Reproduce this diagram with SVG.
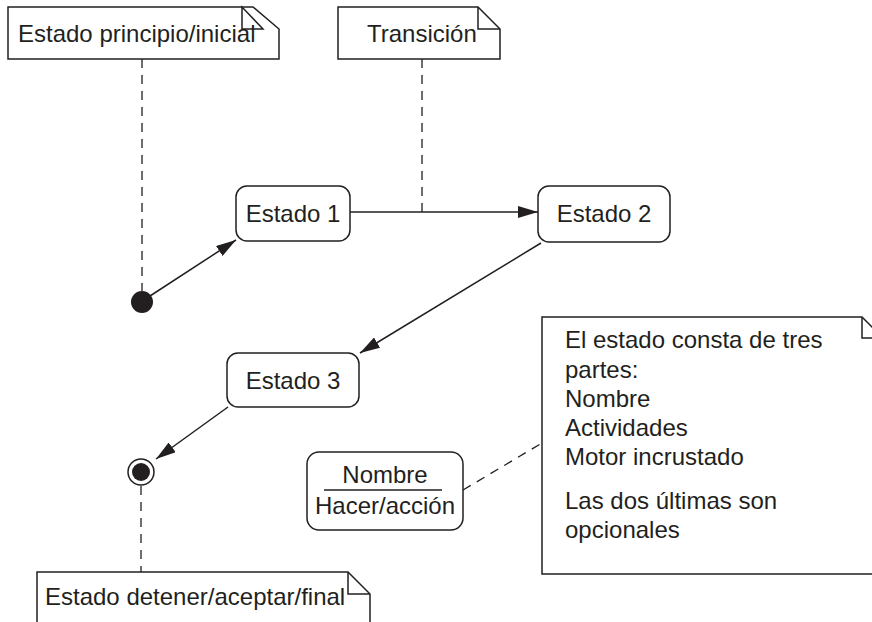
<svg xmlns="http://www.w3.org/2000/svg" width="872" height="622" viewBox="0 0 872 622">
<style>
text{font-family:"Liberation Sans",Arial,sans-serif;font-size:24px;fill:#231f20}
.note{fill:#fff;stroke:#231f20;stroke-width:1.5}
.fold{fill:none;stroke:#231f20;stroke-width:1.5}
.state{fill:#fff;stroke:#231f20;stroke-width:1.5}
.dash{fill:none;stroke:#231f20;stroke-width:1.3;stroke-dasharray:9,7}
.edge{fill:none;stroke:#231f20;stroke-width:1.5}
.mid{text-anchor:middle}
</style>
<defs>
<marker id="arr" viewBox="0 0 20 12" refX="20" refY="6" markerWidth="20" markerHeight="12" markerUnits="userSpaceOnUse" orient="auto">
<path d="M0,0 L20,6 L0,12 Z" fill="#231f20"/>
</marker>
</defs>
<g id="connectors">
<path class="dash" d="M142,59 V291"/>
<path class="dash" d="M422,59 V212"/>
<path class="dash" d="M141,486 V572"/>
<path class="dash" d="M463,490 L542,443"/>
<path class="edge" d="M150,296 L236,240" marker-end="url(#arr)"/>
<path class="edge" d="M350,212 H538" marker-end="url(#arr)"/>
<path class="edge" d="M541,243 L360,353" marker-end="url(#arr)"/>
<path class="edge" d="M228,407 L156,459" marker-end="url(#arr)"/>
</g>
<g id="note-inicial">
<path class="note" d="M8,7 H253 L279,29 V59 H8 Z"/>
<path class="fold" d="M242,7 V29 H263 Z"/>
<text x="18" y="42">Estado principio/inicial</text>
</g>
<g id="note-transicion">
<path class="note" d="M338,7 H478 L500,29 V59 H338 Z"/>
<path class="fold" d="M478,7 V29 H500"/>
<text x="367" y="42">Transición</text>
</g>
<g id="initial">
<circle cx="142" cy="302" r="11" fill="#231f20"/>
</g>
<g id="estado1">
<rect class="state" x="236" y="186" width="114" height="55" rx="11"/>
<text class="mid" x="293" y="222">Estado 1</text>
</g>
<g id="estado2">
<rect class="state" x="538" y="186" width="132" height="56" rx="11"/>
<text class="mid" x="604" y="222">Estado 2</text>
</g>
<g id="estado3">
<rect class="state" x="227" y="353" width="132" height="54" rx="11"/>
<text class="mid" x="293" y="389">Estado 3</text>
</g>
<g id="final">
<circle cx="141" cy="472" r="13" fill="#fff" stroke="#231f20" stroke-width="1.5"/>
<circle cx="141" cy="472" r="9" fill="#231f20"/>
</g>
<g id="note-final">
<path class="note" d="M37,572 H348 L370,594 V640 H37 Z"/>
<path class="fold" d="M348,572 V594 H370"/>
<text x="45" y="605">Estado detener/aceptar/final</text>
</g>
<g id="estado-partes">
<rect class="state" x="307" y="452" width="156" height="78" rx="12"/>
<text class="mid" x="385" y="483">Nombre</text>
<line x1="324" y1="490" x2="442" y2="490" stroke="#231f20" stroke-width="1.5"/>
<text class="mid" x="385" y="514">Hacer/acción</text>
</g>
<g id="note-estado">
<path class="note" d="M542,317 H862 L884,339 V574 H542 Z"/>
<path class="fold" d="M862,317 V338 H884"/>
<text x="565" y="348">El estado consta de tres</text>
<text x="565" y="378">partes:</text>
<text x="565" y="407">Nombre</text>
<text x="565" y="436">Actividades</text>
<text x="565" y="465">Motor incrustado</text>
<text x="565" y="509">Las dos últimas son</text>
<text x="565" y="538">opcionales</text>
</g>
</svg>
